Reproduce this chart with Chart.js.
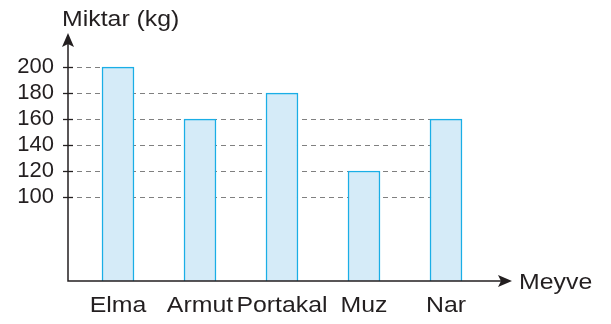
<!DOCTYPE html>
<html>
<head>
<meta charset="utf-8">
<script src="https://cdn.jsdelivr.net/npm/chart.js@4"></script>
<style>
  html, body { margin: 0; padding: 0; background: #fff; }
  #wrap { width: 611px; height: 324px; }
</style>
</head>
<body>
<div id="wrap"><canvas id="meyveChart"></canvas></div>
<script>
const fruits = ['Elma', 'Armut', 'Portakal', 'Muz', 'Nar'];
const amounts = [200, 160, 180, 120, 160];
const yTickValues = [100, 120, 140, 160, 180, 200];
const yTitle = 'Miktar (kg)';
const xTitle = 'Meyve';

const inkColor = '#231f20';
const fontFamily = '"Liberation Sans", Arial, sans-serif';
const wordStretch = 1.13; // words are set in a slightly wide face

// axis line position (the y-axis sits a little left of the first category slot)
const AXIS_X = 68;
const X_ARROW_TIP = 512;

function arrowHead(ctx, tipX, tipY, dir) {
    // concave stealth-style head
    ctx.beginPath();
    if (dir === 'up') {
        ctx.moveTo(tipX, tipY);
        ctx.lineTo(tipX + 6, tipY + 14);
        ctx.lineTo(tipX, tipY + 11);
        ctx.lineTo(tipX - 6, tipY + 14);
    } else {
        ctx.moveTo(tipX, tipY);
        ctx.lineTo(tipX - 14, tipY - 6);
        ctx.lineTo(tipX - 11, tipY);
        ctx.lineTo(tipX - 14, tipY + 6);
    }
    ctx.closePath();
    ctx.fill();
}

function wideText(ctx, text, x, y, align) {
    ctx.save();
    ctx.translate(x, y);
    ctx.scale(wordStretch, 1);
    ctx.textAlign = align;
    ctx.fillText(text, 0, 0);
    ctx.restore();
}

const axesAndGuides = {
    id: 'axesAndGuides',
    // dashed guide lines: each runs from the y-axis to the right edge of the last bar reaching it
    beforeDatasetsDraw(chart) {
        const ctx = chart.ctx;
        const y = chart.scales.y;
        const bars = chart.getDatasetMeta(0).data;
        ctx.save();
        ctx.strokeStyle = '#808080';
        ctx.lineWidth = 1.2;
        ctx.setLineDash([5, 4]);
        yTickValues.forEach(v => {
            let endX = null;
            amounts.forEach((a, i) => {
                if (a >= v) endX = bars[i].x + bars[i].width / 2;
            });
            if (endX === null) return;
            const py = Math.round(y.getPixelForValue(v)) + 0.5;
            ctx.beginPath();
            ctx.moveTo(AXIS_X, py);
            ctx.lineTo(endX, py);
            ctx.stroke();
        });
        ctx.restore();
    },
    afterDatasetsDraw(chart) {
        const ctx = chart.ctx;
        const area = chart.chartArea;
        const y = chart.scales.y;
        const bars = chart.getDatasetMeta(0).data;
        const baseY = area.bottom;
        ctx.save();
        ctx.strokeStyle = inkColor;
        ctx.fillStyle = inkColor;
        ctx.lineWidth = 1.5;

        // axes with arrow heads
        ctx.beginPath();
        ctx.moveTo(AXIS_X, area.top + 8);
        ctx.lineTo(AXIS_X, baseY);
        ctx.lineTo(X_ARROW_TIP - 8, baseY);
        ctx.stroke();
        arrowHead(ctx, AXIS_X, area.top, 'up');
        arrowHead(ctx, X_ARROW_TIP, baseY, 'right');

        // tick marks crossing the y-axis
        ctx.lineWidth = 1.3;
        yTickValues.forEach(v => {
            const py = Math.round(y.getPixelForValue(v)) + 0.5;
            ctx.beginPath();
            ctx.moveTo(AXIS_X - 5, py);
            ctx.lineTo(AXIS_X + 5, py);
            ctx.stroke();
        });

        // category names and axis titles
        ctx.font = '22px ' + fontFamily;
        ctx.textBaseline = 'alphabetic';
        fruits.forEach((name, i) => {
            wideText(ctx, name, bars[i].x, baseY + 31, 'center');
        });
        wideText(ctx, yTitle, 62, 26, 'left');
        wideText(ctx, xTitle, 519, 289, 'left');
        ctx.restore();
    }
};

new Chart(document.getElementById('meyveChart'), {
    type: 'bar',
    data: {
        labels: fruits,
        datasets: [{
            data: amounts,
            backgroundColor: '#d5ebf8',
            borderColor: '#1aaee6',
            borderWidth: 1.5,
            barThickness: 32
        }]
    },
    options: {
        responsive: true,
        maintainAspectRatio: false,
        animation: false,
        layout: { padding: { top: 33, right: 124, bottom: 0, left: 0 } },
        plugins: {
            legend: { display: false },
            tooltip: { enabled: false }
        },
        scales: {
            x: {
                grid: { display: false, drawTicks: false },
                border: { display: false },
                ticks: { display: false },
                afterFit(scale) {
                    scale.height = 43;
                    scale.paddingLeft = 0;
                    scale.paddingRight = 0;
                }
            },
            y: {
                min: 35.4,
                max: 226.2,
                grid: { display: false, drawTicks: false },
                border: { display: false },
                afterBuildTicks(scale) {
                    scale.ticks = yTickValues.map(v => ({ value: v }));
                },
                ticks: {
                    color: inkColor,
                    padding: 23,
                    font: { family: fontFamily, size: 22 }
                },
                afterFit(scale) {
                    scale.width = 77;
                    scale.paddingTop = 0;
                    scale.paddingBottom = 0;
                }
            }
        }
    },
    plugins: [axesAndGuides]
});
</script>
</body>
</html>
